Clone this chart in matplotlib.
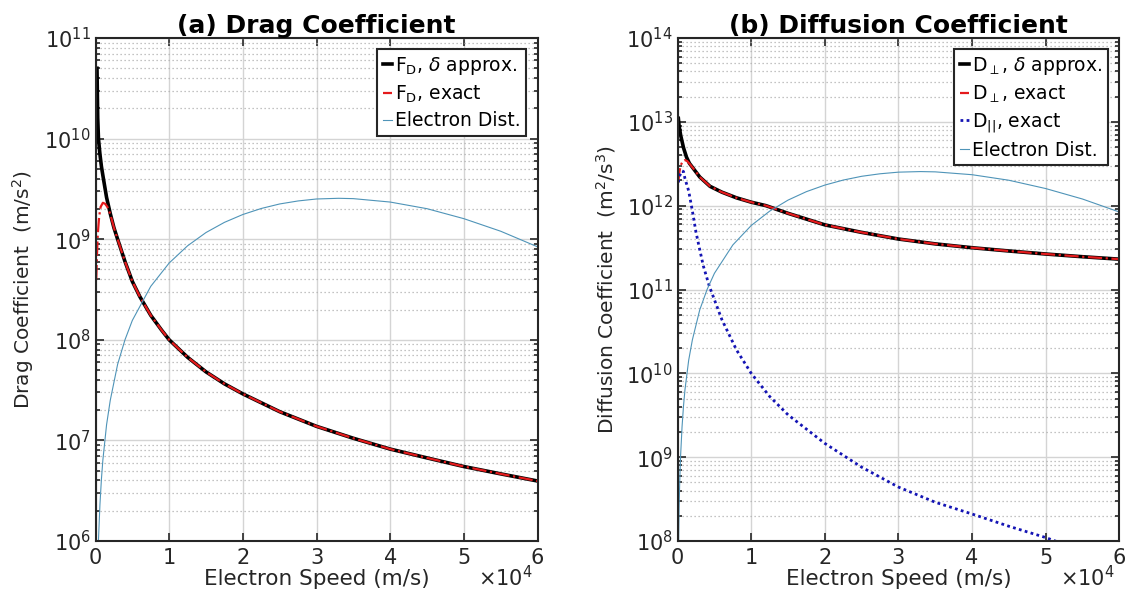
import matplotlib
matplotlib.use('Agg')
import matplotlib.pyplot as plt
from matplotlib.ticker import LogLocator, NullFormatter, FixedLocator

# speeds are in units of 1e4 m/s

# (a) drag coefficient, delta approximation
fd_speed = [0.02, 0.03, 0.04, 0.06, 0.08, 0.1, 0.15, 0.2, 0.25, 0.3, 0.4, 0.5,
            0.6, 0.75, 0.9, 1.0, 1.25, 1.5, 1.75, 2.0, 2.5, 3.0, 3.5, 4.0,
            4.5, 5.0, 5.5, 6.0]
fd_approx = [5.0e10, 1.6e10, 1.0e10, 7.0e9, 5.3e9, 4.3e9, 2.6e9, 1.8e9, 1.3e9,
             1.0e9, 6.0e8, 3.8e8, 2.7e8, 1.75e8, 1.24e8, 1.0e8, 6.7e7, 4.8e7,
             3.65e7, 2.9e7, 1.93e7, 1.38e7, 1.05e7, 8.2e6, 6.7e6, 5.5e6,
             4.65e6, 3.95e6]

# (a) drag coefficient, exact
fd_exact_speed = [0.01, 0.02, 0.03, 0.05, 0.07, 0.1, 0.13, 0.16, 0.2, 0.25,
                  0.3, 0.4, 0.5, 0.6, 0.75, 0.9, 1.0, 1.25, 1.5, 1.75, 2.0,
                  2.5, 3.0, 3.5, 4.0, 4.5, 5.0, 5.5, 6.0]
fd_exact = [4.0e8, 7.0e8, 1.1e9, 1.7e9, 2.1e9, 2.3e9, 2.25e9, 2.1e9, 1.78e9,
            1.3e9, 1.0e9, 6.0e8, 3.8e8, 2.7e8, 1.75e8, 1.24e8, 1.0e8, 6.7e7,
            4.8e7, 3.65e7, 2.9e7, 1.93e7, 1.38e7, 1.05e7, 8.2e6, 6.7e6,
            5.5e6, 4.65e6, 3.95e6]

# (b) perpendicular diffusion, delta approximation
dperp_speed = [0.01, 0.02, 0.04, 0.055, 0.08, 0.12, 0.16, 0.21, 0.3, 0.44,
               0.6, 0.8, 1.0, 1.2, 1.5, 2.0, 2.5, 3.0, 3.5, 4.0, 4.5, 5.0,
               5.5, 6.0]
dperp_approx = [1.1e13, 9.0e12, 7.0e12, 6.1e12, 4.9e12, 3.8e12, 3.2e12,
                2.8e12, 2.2e12, 1.7e12, 1.45e12, 1.24e12, 1.1e12, 1.0e12,
                8.1e11, 5.9e11, 4.8e11, 4.0e11, 3.5e11, 3.15e11, 2.88e11,
                2.65e11, 2.46e11, 2.3e11]

# (b) perpendicular diffusion, exact
dperp_exact_speed = [0.01, 0.02, 0.04, 0.07, 0.1, 0.13, 0.17, 0.21, 0.3,
                     0.44, 0.6, 0.8, 1.0, 1.2, 1.5, 2.0, 2.5, 3.0, 3.5, 4.0,
                     4.5, 5.0, 5.5, 6.0]
dperp_exact = [1.9e12, 2.4e12, 3.0e12, 3.4e12, 3.5e12, 3.4e12, 3.1e12,
               2.8e12, 2.2e12, 1.7e12, 1.45e12, 1.24e12, 1.1e12, 1.0e12,
               8.1e11, 5.9e11, 4.8e11, 4.0e11, 3.5e11, 3.15e11, 2.88e11,
               2.65e11, 2.46e11, 2.3e11]

# (b) parallel diffusion, exact
dpar_speed = [0.01, 0.03, 0.06, 0.08, 0.1, 0.15, 0.2, 0.25, 0.3, 0.35, 0.43,
              0.6, 0.8, 1.0, 1.25, 1.5, 2.0, 2.5, 3.0, 3.5, 4.0, 4.5, 5.0,
              5.2]
dpar_exact = [1.9e12, 2.3e12, 2.6e12, 2.55e12, 2.1e12, 1.5e12, 8.7e11,
              4.8e11, 3.0e11, 1.9e11, 1.1e11, 4.4e10, 1.9e10, 1.0e10, 5.3e9,
              3.2e9, 1.46e9, 7.6e8, 4.4e8, 2.9e8, 2.1e8, 1.5e8, 1.1e8, 9.5e7]

# electron distribution (arbitrary scale) for each panel
dist_speed = [0.01, 0.02, 0.03, 0.04, 0.06, 0.08, 0.1, 0.15, 0.2, 0.3, 0.4,
              0.5, 0.75, 1.0, 1.25, 1.5, 1.75, 2.0, 2.25, 2.5, 2.75, 3.0,
              3.3, 3.5, 4.0, 4.5, 5.0, 5.5, 6.0]
dist_a = [6.4e4, 2.5e5, 5.7e5, 1.02e6, 2.3e6, 4.1e6, 6.4e6, 1.43e7, 2.5e7,
          5.7e7, 1.0e8, 1.56e8, 3.4e8, 5.8e8, 8.6e8, 1.165e9, 1.47e9, 1.76e9,
          2.02e9, 2.24e9, 2.40e9, 2.51e9, 2.55e9, 2.53e9, 2.34e9, 2.01e9,
          1.60e9, 1.20e9, 8.4e8]
dist_b = [6.4e7, 2.5e8, 5.7e8, 1.02e9, 2.3e9, 4.1e9, 6.4e9, 1.43e10, 2.5e10,
          5.7e10, 1.0e11, 1.56e11, 3.4e11, 5.8e11, 8.6e11, 1.165e12, 1.47e12,
          1.76e12, 2.02e12, 2.24e12, 2.40e12, 2.51e12, 2.55e12, 2.53e12,
          2.34e12, 2.01e12, 1.60e12, 1.20e12, 8.4e11]

xticks = [0, 1, 2, 3, 4, 5, 6]

plt.rcParams['font.family'] = 'DejaVu Sans'
plt.rcParams['mathtext.fontset'] = 'dejavusans'
dark = '#262626'
dist_color = '#4f94b8'

fig = plt.figure(figsize=(11.29, 6), dpi=100)
ax1 = fig.add_axes([0.0846, 0.0983, 0.3915, 0.8384])
ax2 = fig.add_axes([0.6002, 0.0983, 0.3912, 0.8384])


def style_axes(ax, ylo, yhi):
    ax.set_yscale('log')
    ax.set_xlim(0, 6)
    ax.set_ylim(ylo, yhi)
    ax.xaxis.set_major_locator(FixedLocator(xticks))
    ax.yaxis.set_major_locator(LogLocator(base=10, numticks=20))
    ax.yaxis.set_minor_locator(LogLocator(base=10, subs=range(2, 10), numticks=20))
    ax.yaxis.set_minor_formatter(NullFormatter())
    ax.grid(True, which='major', color='#d4d4d4', linewidth=1.0, linestyle='-')
    ax.grid(True, which='minor', axis='y', color='#b0b0b0', linewidth=0.9,
            linestyle=(0, (1, 2.2)))
    ax.set_axisbelow(True)
    ax.tick_params(which='both', direction='in', top=True, right=True,
                   colors=dark, labelsize=15, width=1.2)
    ax.tick_params(which='major', length=6)
    ax.tick_params(which='minor', length=3)
    ax.tick_params(axis='x', pad=5)
    for s in ax.spines.values():
        s.set_linewidth(1.5)
        s.set_color(dark)
    ax.set_xlabel('Electron Speed (m/s)', fontsize=15.5, color=dark, labelpad=1)
    ax.text(0.99, -0.048, r'$\times\mathregular{10^4}$', transform=ax.transAxes,
            ha='right', va='top', fontsize=15, color=dark)


# panel (a)
style_axes(ax1, 1e6, 1e11)
ax1.plot(fd_speed, fd_approx, color='black', lw=2.6,
         label=r'F$_\mathregular{D}$, $\delta$ approx.')
ax1.plot(fd_exact_speed, fd_exact, color='#e41a1c', lw=1.6, linestyle='-.',
         label=r'F$_\mathregular{D}$, exact')
ax1.plot(dist_speed, dist_a, color=dist_color, lw=0.8, label='Electron Dist.')
ax1.set_ylabel(r'Drag Coefficient  (m/s$^\mathregular{2}$)', fontsize=14.5,
               color=dark, labelpad=6)
ax1.set_title('(a) Drag Coefficient', fontsize=18, fontweight='bold', pad=3)
leg1 = ax1.legend(loc='upper right', fontsize=13.5, handlelength=0.5,
                  handletextpad=0.15, borderpad=0.3, labelspacing=0.35,
                  borderaxespad=0.6, fancybox=False, framealpha=1)
leg1.get_frame().set_edgecolor(dark)
leg1.get_frame().set_linewidth(1.5)

# panel (b)
style_axes(ax2, 1e8, 1e14)
ax2.plot(dperp_speed, dperp_approx, color='black', lw=2.6,
         label=r'D$_\perp$, $\delta$ approx.')
ax2.plot(dperp_exact_speed, dperp_exact, color='#e41a1c', lw=1.6, linestyle='-.',
         label=r'D$_\perp$, exact')
ax2.plot(dpar_speed, dpar_exact, color='#1414b4', lw=2.0, linestyle=(0, (1, 1.2)),
         label=r'D$_{||}$, exact')
ax2.plot(dist_speed, dist_b, color=dist_color, lw=0.8, label='Electron Dist.')
ax2.set_ylabel(r'Diffusion Coefficient  (m$^\mathregular{2}$/s$^\mathregular{3}$)',
               fontsize=14.5, color=dark, labelpad=6)
ax2.set_title('(b) Diffusion Coefficient', fontsize=18, fontweight='bold', pad=3)
leg2 = ax2.legend(loc='upper right', fontsize=13.5, handlelength=0.5,
                  handletextpad=0.15, borderpad=0.3, labelspacing=0.35,
                  borderaxespad=0.6, fancybox=False, framealpha=1)
leg2.get_frame().set_edgecolor(dark)
leg2.get_frame().set_linewidth(1.5)

fig.savefig('out.png', dpi=100)
